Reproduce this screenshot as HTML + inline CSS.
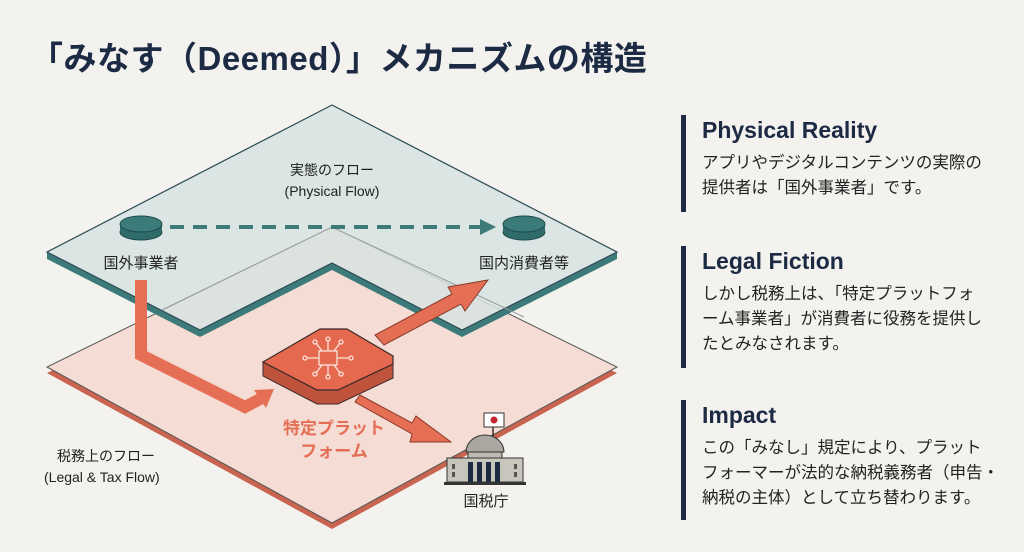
<!DOCTYPE html>
<html><head><meta charset="utf-8"><style>
html,body{margin:0;padding:0;background:#f3f2ee;}
body{width:1024px;height:552px;overflow:hidden;position:relative;font-family:"Liberation Sans","Noto Sans CJK JP",sans-serif;}
.t{position:absolute;left:30px;top:32px;font-size:33px;font-weight:bold;color:#1c2a44;white-space:nowrap;letter-spacing:0.5px}
.sec{position:absolute;left:681px;border-left:5px solid #1c2a44;padding-left:16px;color:#222;}
.sec h2{margin:0;font-size:23px;font-weight:bold;color:#1c2a44;line-height:30px}
.sec p{margin:6px 0 0;font-size:16.5px;line-height:25px;white-space:nowrap}
</style></head><body>
<svg width="1024" height="552" style="position:absolute;left:0;top:0" font-family="Liberation Sans, Noto Sans CJK JP, sans-serif">
<polygon points="332,233 617,373 332,529 47,373" fill="#c8644f"/>
<polygon points="332,227 617,367 332,523 47,367" fill="#f5ddd5" stroke="#555" stroke-width="1"/>
<polygon points="47,252 200,330 332,263 462,330 617,252 617,259 462,337 332,270 200,337 47,259" fill="#3d7a7a"/>
<polygon points="332,105 617,252 462,330 332,263 200,330 47,252" fill="#d6e3e2" fill-opacity="0.85" stroke="#2c4a55" stroke-width="1.2"/>
<polyline points="162,310 332,227 524,317" fill="none" stroke="#999" stroke-width="1"/>
<g fill="#2f6b6a" stroke="#1e4a4a"><ellipse cx="141" cy="232" rx="21" ry="8"/><rect x="120" y="224" width="42" height="8" stroke="none"/><ellipse cx="141" cy="224" rx="21" ry="8" fill="#3b7b79"/></g>
<g fill="#2f6b6a" stroke="#1e4a4a"><ellipse cx="524" cy="232" rx="21" ry="8"/><rect x="503" y="224" width="42" height="8" stroke="none"/><ellipse cx="524" cy="224" rx="21" ry="8" fill="#3b7b79"/></g>
<line x1="170" y1="227" x2="482" y2="227" stroke="#3d7a78" stroke-width="4" stroke-dasharray="14,9"/>
<polygon points="480,219 496,227 480,235" fill="#3d7a78"/>
<polyline points="141,280 141,355 245,407 262,398" fill="none" stroke="#e46f55" stroke-width="12" stroke-linejoin="miter"/>
<polygon points="254,390 274,389 266,408" fill="#e46f55"/>
<polygon points="375,335 452,294 448,287 488,280 465,311 461,304 384,345" fill="#e46f55" stroke="#8a3a2a" stroke-width="1"/>
<polygon points="360,395 412,423 416,416 451,442 410,442 412,434 355,402" fill="#e46f55" stroke="#8a3a2a" stroke-width="1"/>
<polygon points="263,362 263,376 317,404 338,404 393,378 393,364 338,390 317,390" fill="#c0533c" stroke="#3a2a2a" stroke-width="1"/>
<polygon points="263,362 320,329 347,329 393,356 393,364 338,390 317,390" fill="#e5694e" stroke="#3a2a2a" stroke-width="1.2"/>
<g stroke="#fbe4dc" stroke-width="1.3" fill="none">
<rect x="319" y="351" width="18" height="14"/>
<path d="M322,351 l-6,-8 M328,351 v-10 M334,351 l6,-8 M319,358 h-12 M337,358 h12 M322,365 l-6,8 M328,365 v10 M334,365 l6,8"/>
<circle cx="315" cy="342" r="2"/><circle cx="328" cy="339" r="2"/><circle cx="341" cy="342" r="2"/><circle cx="305" cy="358" r="2"/><circle cx="351" cy="358" r="2"/><circle cx="315" cy="374" r="2"/><circle cx="328" cy="377" r="2"/><circle cx="341" cy="374" r="2"/>
</g>
<g>
<line x1="493" y1="415" x2="493" y2="445" stroke="#333" stroke-width="1.5"/>
<rect x="484" y="413" width="20" height="14" fill="#fff" stroke="#333"/><circle cx="494" cy="420" r="3.5" fill="#c0282d"/>
<path d="M466,452 a19,17 0 0 1 38,0 z" fill="#a9a7a0" stroke="#333"/>
<rect x="468" y="452" width="34" height="6" fill="#bdbab2" stroke="#333"/>
<rect x="447" y="458" width="76" height="24" fill="#c8c5bd" stroke="#333"/>
<g fill="#1c2a44"><rect x="468" y="462" width="5" height="20"/><rect x="477" y="462" width="5" height="20"/><rect x="486" y="462" width="5" height="20"/><rect x="495" y="462" width="5" height="20"/></g>
<g fill="#555"><rect x="452" y="464" width="3" height="5"/><rect x="452" y="472" width="3" height="5"/><rect x="514" y="464" width="3" height="5"/><rect x="514" y="472" width="3" height="5"/></g>
<rect x="444" y="482" width="82" height="3" fill="#333"/>
</g>
<g fill="#222" font-size="14" text-anchor="middle">
<text x="332" y="175">実態のフロー</text>
<text x="332" y="196">(Physical Flow)</text>
<text x="141" y="268" font-size="15">国外事業者</text>
<text x="524" y="268" font-size="15">国内消費者等</text>
<text x="486" y="506" font-size="15">国税庁</text>
<text x="57" y="461" text-anchor="start">税務上のフロー</text>
<text x="44" y="482" text-anchor="start">(Legal &amp; Tax Flow)</text>
</g>
<g fill="#e46f55" font-size="17" font-weight="bold" text-anchor="middle">
<text x="334" y="434">特定プラット</text>
<text x="334" y="457">フォーム</text>
</g>
</svg>
<div class="t">「みなす（Deemed）」メカニズムの構造</div>
<div class="sec" style="top:115px;height:97px"><h2>Physical Reality</h2><p>アプリやデジタルコンテンツの実際の<br>提供者は「国外事業者」です。</p></div>
<div class="sec" style="top:246px;height:122px"><h2>Legal Fiction</h2><p>しかし税務上は、「特定プラットフォ<br>ーム事業者」が消費者に役務を提供し<br>たとみなされます。</p></div>
<div class="sec" style="top:400px;height:120px"><h2>Impact</h2><p>この「みなし」規定により、プラット<br>フォーマーが法的な納税義務者（申告・<br>納税の主体）として立ち替わります。</p></div>
</body></html>
